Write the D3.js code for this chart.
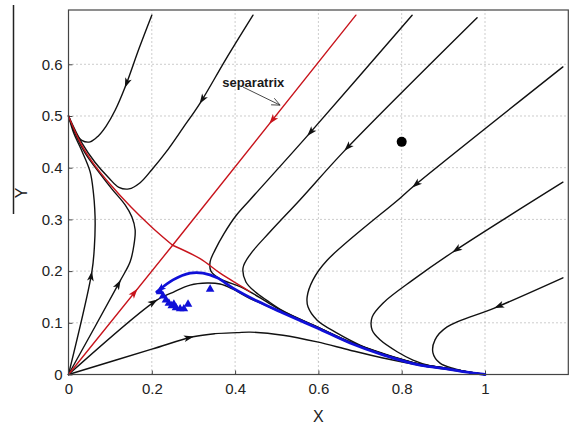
<!DOCTYPE html>
<html>
<head>
<meta charset="utf-8">
<script src="https://cdn.jsdelivr.net/npm/d3@7"></script>
<style>
body { margin: 0; background: #fff; }
svg { display: block; font-family: "Liberation Sans", Arial, Helvetica, sans-serif; }
</style>
</head>
<body>
<div id="chart"></div>
<script>
// axis data
const xTicks = [0, 0.2, 0.4, 0.6, 0.8, 1];
const xTickLabels = ["0", "0.2", "0.4", "0.6", "0.8", "1"];
const yTicks = [0, 0.1, 0.2, 0.3, 0.4, 0.5, 0.6];
const yTickLabels = ["0", "0.1", "0.2", "0.3", "0.4", "0.5", "0.6"];
const xLabel = "X";
const yLabel = "Y";

// black trajectories in flow direction (x, y)
const trajTop1 = [[0.200,0.695],[0.170,0.632],[0.136,0.556],[0.112,0.511],[0.090,0.480],[0.071,0.461],[0.052,0.450],[0.032,0.453],[0.016,0.469],[0,0.5]];
const trajTop2 = [[0.443,0.695],[0.378,0.610],[0.316,0.525],[0.275,0.477],[0.234,0.430],[0.200,0.396],[0.172,0.371],[0.145,0.359],[0.121,0.362],[0.097,0.380],[0.064,0.410],[0.032,0.448],[0,0.5]];
const trajOrig1 = [[0,0],[0.056,0.198],[0.062,0.245],[0.064,0.290],[0.063,0.320],[0.060,0.350],[0.052,0.392],[0.030,0.436],[0.013,0.466],[0,0.5]];
const trajOrig2 = [[0,0],[0.124,0.181],[0.148,0.218],[0.157,0.250],[0.160,0.280],[0.152,0.305],[0.136,0.328],[0.104,0.359],[0.076,0.388],[0.040,0.428],[0.016,0.466],[0,0.5]];
const trajOrig3 = [[0,0],[0.212,0.144],[0.251,0.159],[0.292,0.173],[0.333,0.177],[0.364,0.175],[0.395,0.165],[0.436,0.147],[0.515,0.119],[0.597,0.090],[0.676,0.061],[0.755,0.038],[0.844,0.018],[0.909,0.011],[0.952,0.005],[1,0]];
const trajOrig4 = [[0,0],[0.200,0.049],[0.299,0.073],[0.352,0.079],[0.405,0.081],[0.436,0.082],[0.515,0.076],[0.597,0.063],[0.676,0.047],[0.755,0.032],[0.844,0.018],[0.916,0.009],[1,0]];
const trajTop3 = [[0.825,0.695],[0.575,0.463],[0.436,0.338],[0.402,0.307],[0.373,0.272],[0.352,0.241],[0.340,0.218],[0.342,0.200],[0.364,0.185],[0.412,0.170],[0.436,0.160],[0.477,0.140],[0.515,0.122],[0.597,0.092],[0.676,0.063],[0.755,0.040],[0.844,0.020],[0.909,0.012],[0.952,0.006],[1,0]];
const trajTop4 = [[0.981,0.690],[0.664,0.434],[0.556,0.338],[0.484,0.276],[0.436,0.232],[0.419,0.206],[0.426,0.179],[0.448,0.160],[0.477,0.143],[0.515,0.123],[0.597,0.092],[0.676,0.063],[0.755,0.040],[0.844,0.020],[0.909,0.012],[0.952,0.006],[1,0]];
const trajRight1 = [[1.187,0.595],[0.827,0.363],[0.796,0.341],[0.621,0.221],[0.587,0.183],[0.573,0.150],[0.575,0.131],[0.597,0.105],[0.645,0.080],[0.700,0.057],[0.755,0.041],[0.844,0.020],[0.909,0.012],[0.952,0.006],[1,0]];
const trajRight2 = [[1.187,0.372],[0.923,0.237],[0.827,0.183],[0.755,0.138],[0.729,0.111],[0.729,0.086],[0.748,0.067],[0.789,0.044],[0.827,0.028],[0.868,0.017],[0.909,0.011],[0.952,0.005],[1,0]];
const trajRight3 = [[1.187,0.187],[1.024,0.129],[0.909,0.092],[0.880,0.067],[0.875,0.042],[0.892,0.022],[0.928,0.011],[0.971,0.003],[1,0]];

const blackTraj = [trajTop1, trajTop2, trajOrig1, trajOrig2, trajOrig3, trajOrig4, trajTop3, trajTop4, trajRight1, trajRight2, trajRight3];
// arrow positions, one per black trajectory
const blackArrows = [[0.136,0.556],[0.316,0.525],[0.056,0.198],[0.124,0.181],[0.212,0.144],[0.299,0.073],[0.575,0.463],[0.664,0.434],[0.827,0.363],[0.923,0.237],[1.024,0.129]];

// separatrix (red): stable manifold of the saddle and its unstable branches
const redStableLow = [[0,0],[0.25,0.25]];
const redStableHigh = [[0.69,0.695],[0.25,0.25]];
const redUnstableLeft = [[0.25,0.25],[0.2,0.285],[0.15,0.324],[0.1,0.368],[0.06,0.408],[0.03,0.446],[0,0.5]];
const redUnstableRight = [[0.25,0.25],[0.316,0.224],[0.364,0.196],[0.412,0.172],[0.436,0.160]];
const redArrows = [[0.164,0.164],[0.485,0.485]];

// blue curve and observed points
const blueCurve = [[1.0,0.0],[0.952,0.005],[0.909,0.011],[0.844,0.018],[0.755,0.038],[0.676,0.061],[0.597,0.090],[0.515,0.119],[0.453,0.142],[0.395,0.167],[0.357,0.187],[0.323,0.196],[0.292,0.196],[0.251,0.183],[0.212,0.160]];
const bluePoints = [[0.340,0.165],[0.220,0.160],[0.227,0.152],[0.234,0.144],[0.241,0.138],[0.248,0.133],[0.253,0.136],[0.258,0.129],[0.268,0.127],[0.277,0.127],[0.287,0.136]];

const blackDot = [0.8, 0.45];
const annText = "separatrix";
const annTextAt = [0.369, 0.556];
const annArrow = [[0.419,0.556],[0.508,0.521]];

// 初始化
const width = 572, height = 425;
const svg = d3.select("#chart").append("svg").attr("width", width).attr("height", height);

const x = d3.scaleLinear().domain([0, 1.2]).range([68.5, 568.3]);
const y = d3.scaleLinear().domain([0, 0.705]).range([374.5, 10]);

// grid
const grid = svg.append("g").attr("id", "grid").attr("stroke", "#9a9a9a").attr("stroke-width", 1).attr("stroke-dasharray", "1,3");
grid.selectAll("line.gx").data(xTicks.slice(1)).enter().append("line")
    .attr("x1", d => x(d)).attr("x2", d => x(d)).attr("y1", y(0)).attr("y2", y(0.705));
grid.selectAll("line.gy").data(yTicks.slice(1)).enter().append("line")
    .attr("x1", x(0)).attr("x2", x(1.2)).attr("y1", d => y(d)).attr("y2", d => y(d));

// axes
const xAxis = d3.axisBottom(x).tickValues(xTicks).tickFormat((d, i) => xTickLabels[i]).tickSizeInner(-4).tickSizeOuter(0).tickPadding(9);
const yAxis = d3.axisLeft(y).tickValues(yTicks).tickFormat((d, i) => yTickLabels[i]).tickSizeInner(-4).tickSizeOuter(0).tickPadding(6);
const gx = svg.append("g").attr("transform", "translate(0," + y(0) + ")").call(xAxis);
const gy = svg.append("g").attr("transform", "translate(" + x(0) + ",0)").call(yAxis);
[gx, gy].forEach(g => {
    g.select(".domain").remove();
    g.selectAll(".tick line").attr("stroke", "#444");
    g.selectAll(".tick text").attr("font-size", 15).attr("fill", "#222").attr("font-family", "Liberation Sans, Arial, sans-serif");
});

const line = d3.line().x(d => x(d[0])).y(d => y(d[1])).curve(d3.curveCatmullRom.alpha(0.5));

const drawPaths = (id, list, color, w) => svg.append("g").attr("id", id)
    .selectAll("path").data(list).enter().append("path")
    .attr("d", d => line(d)).attr("fill", "none").attr("stroke", color).attr("stroke-width", w)
    .attr("stroke-linejoin", "round").attr("stroke-linecap", "round");

const blackSel = drawPaths("black", blackTraj, "#111", 1.4);
const redSel = drawPaths("red", [redStableLow, redStableHigh, redUnstableLeft, redUnstableRight], "#c8141c", 1.4);
const blueSel = drawPaths("blue", [blueCurve], "#1010d8", 2.8);

// arrow heads placed on the drawn path at the point nearest to the given one
const arrowG = svg.append("g").attr("id", "arrows");
const addArrow = (node, pt, color) => {
    const total = node.getTotalLength();
    const px = x(pt[0]), py = y(pt[1]);
    let best = 0, bestD = Infinity;
    for (let l = 0; l <= total; l += 0.5) {
        const p = node.getPointAtLength(l);
        const dd = (p.x - px) * (p.x - px) + (p.y - py) * (p.y - py);
        if (dd < bestD) { bestD = dd; best = l; }
    }
    const p0 = node.getPointAtLength(Math.max(0, best - 2));
    const p1 = node.getPointAtLength(Math.min(total, best + 2));
    const tip = node.getPointAtLength(best);
    const ang = Math.atan2(p1.y - p0.y, p1.x - p0.x) * 180 / Math.PI;
    arrowG.append("path").attr("d", "M1,0L-9,-3.4L-6.5,0L-9,3.4Z").attr("fill", color)
        .attr("transform", "translate(" + tip.x + "," + tip.y + ") rotate(" + ang + ")");
};
blackSel.each(function(d, i) { addArrow(this, blackArrows[i], "#111"); });
const redNodes = redSel.nodes();
addArrow(redNodes[0], redArrows[0], "#c8141c");
addArrow(redNodes[1], redArrows[1], "#c8141c");
blueSel.each(function(d) { addArrow(this, d[d.length - 1], "#1010d8"); });

// blue triangles
svg.append("g").attr("id", "tri").selectAll("path").data(bluePoints).enter().append("path")
    .attr("d", d3.symbol(d3.symbolTriangle, 32)).attr("fill", "#1010d8")
    .attr("transform", d => "translate(" + x(d[0]) + "," + y(d[1]) + ")");

// black dot
svg.append("circle").attr("cx", x(blackDot[0])).attr("cy", y(blackDot[1])).attr("r", 5).attr("fill", "#000");

// annotation
svg.append("text").attr("x", x(annTextAt[0])).attr("y", y(annTextAt[1])).attr("font-size", 13).attr("font-weight", "bold")
    .attr("fill", "#1a1a1a").text(annText);
const a0 = [x(annArrow[0][0]), y(annArrow[0][1])], a1 = [x(annArrow[1][0]), y(annArrow[1][1])];
const aAng = Math.atan2(a1[1] - a0[1], a1[0] - a0[0]);
const barb = s => [a1[0] - 9 * Math.cos(aAng + s * 0.42), a1[1] - 9 * Math.sin(aAng + s * 0.42)];
svg.append("path").attr("d", "M" + a0 + "L" + a1 + "M" + barb(1) + "L" + a1 + "L" + barb(-1))
    .attr("fill", "none").attr("stroke", "#333").attr("stroke-width", 0.9);

// frame
svg.append("rect").attr("x", x(0)).attr("y", y(0.705)).attr("width", x(1.2) - x(0)).attr("height", y(0) - y(0.705))
    .attr("fill", "none").attr("stroke", "#444").attr("stroke-width", 1.2);

// axis labels
svg.append("text").attr("x", x(0.6)).attr("y", 422).attr("text-anchor", "middle").attr("font-size", 16).attr("fill", "#222").text(xLabel);
svg.append("text").attr("transform", "translate(27,193) rotate(-90)").attr("text-anchor", "middle").attr("font-size", 16).attr("fill", "#222").text(yLabel);
svg.append("line").attr("x1", 13.5).attr("x2", 13.5).attr("y1", 5).attr("y2", 214).attr("stroke", "#222").attr("stroke-width", 1.5);
</script>
</body>
</html>
